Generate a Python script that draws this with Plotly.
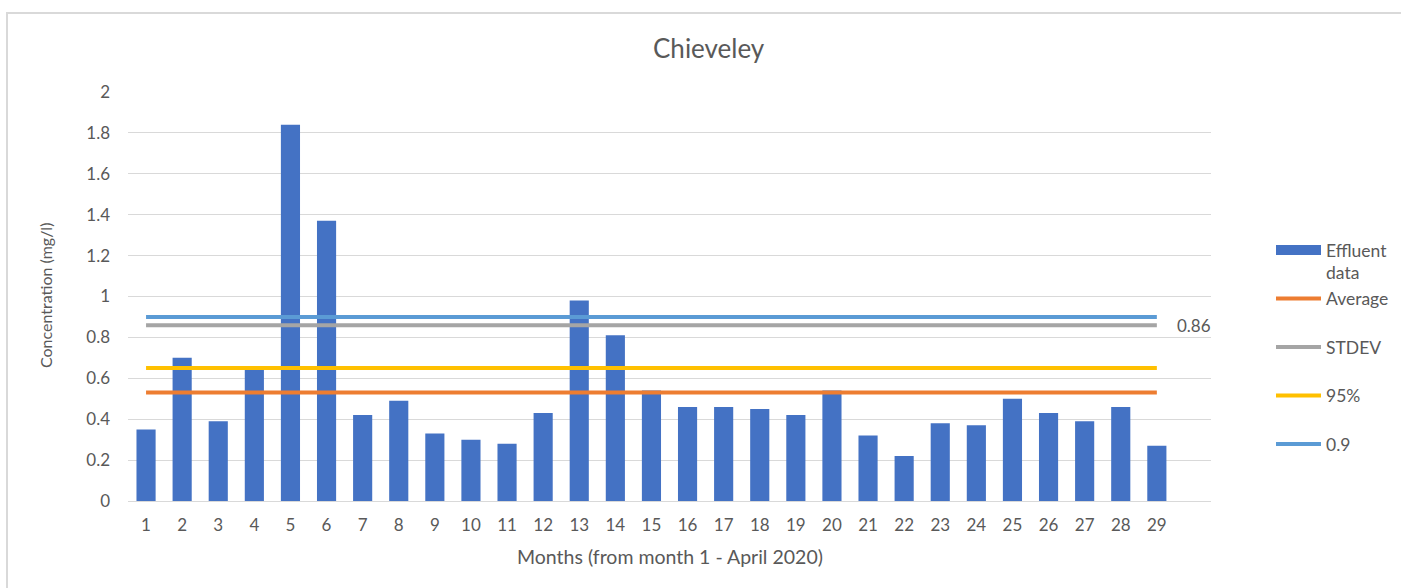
import plotly.graph_objects as go

months = list(range(1, 30))
effluent = [0.35, 0.70, 0.39, 0.64, 1.84, 1.37, 0.42, 0.49, 0.33, 0.30,
            0.28, 0.43, 0.98, 0.81, 0.54, 0.46, 0.46, 0.45, 0.42, 0.54,
            0.32, 0.22, 0.38, 0.37, 0.50, 0.43, 0.39, 0.46, 0.27]
average_value = 0.53
stdev_value = 0.86
p95_value = 0.65
p90_value = 0.9
tick_labels = [str(m) for m in months]

FONT = "Lato"
TXT = "#595959"
BAR_COLOR = "#4472C4"

W, H = 1401, 588
L, R, T, B = 128, 190, 92, 87
pw = W - L - R
ph = H - T - B


def px_x(x):
    return (x - L) / pw


def px_y(y):
    return (H - B - y) / ph


fig = go.Figure()
fig.add_trace(go.Bar(x=months, y=effluent, name="Effluent data",
                     marker=dict(color=BAR_COLOR, line=dict(width=0)),
                     showlegend=False, legendgroup="a"))
# legend entry for the bars (wide swatch, as in the original)
fig.add_trace(go.Scatter(x=[None], y=[None], mode="lines",
                         name="Effluent<br>data",
                         line=dict(color=BAR_COLOR, width=13),
                         legendgroup="a", hoverinfo="skip"))

line_series = [
    ("Average<br> ", average_value, "#ED7D31", "b"),
    ("STDEV<br> ", stdev_value, "#A5A5A5", "c"),
    ("95%<br> ", p95_value, "#FFC000", "d"),
    ("0.9<br> ", p90_value, "#5B9BD5", "e"),
]
for name, val, col, grp in line_series:
    fig.add_trace(go.Scatter(x=months, y=[val] * len(months), name=name,
                             mode="lines", line=dict(color=col, width=4),
                             legendgroup=grp, hoverinfo="skip"))

fig.update_layout(
    width=W, height=H,
    margin=dict(l=L, r=R, t=T, b=B, autoexpand=False),
    paper_bgcolor="white", plot_bgcolor="white",
    font=dict(family=FONT, color=TXT),
    bargap=0.47,
    showlegend=True,
    legend=dict(x=px_x(1271), y=px_y(232), xanchor="left", yanchor="top",
                font=dict(family=FONT, size=17.5, color=TXT),
                tracegroupgap=0, valign="top", itemwidth=45,
                bgcolor="rgba(0,0,0,0)"),
    xaxis=dict(range=[0.5, 30.5], tickmode="array", tickvals=months,
               ticktext=tick_labels, showgrid=False, zeroline=False,
               showline=False, ticks="", tickfont=dict(size=17, color=TXT),
               ticklabelstandoff=12),
    yaxis=dict(range=[0, 2], dtick=0.2, showgrid=True, gridcolor="#D9D9D9",
               gridwidth=1, zeroline=True, zerolinecolor="#D9D9D9",
               zerolinewidth=1, showline=False, ticks="",
               tickfont=dict(size=17, color=TXT), ticklabelstandoff=17),
    annotations=[
        dict(text="Chieveley", x=px_x(709), y=px_y(48), xref="paper",
             yref="paper", showarrow=False, xanchor="center",
             yanchor="middle", font=dict(size=26, color=TXT)),
        dict(text="Months (from month 1 - April 2020)", x=px_x(670),
             y=px_y(556), xref="paper", yref="paper", showarrow=False,
             xanchor="center", yanchor="middle",
             font=dict(size=19.5, color=TXT)),
        dict(text="Concentration (mg/l)", x=px_x(45), y=px_y(296),
             xref="paper", yref="paper", showarrow=False, textangle=-90,
             xanchor="center", yanchor="middle",
             font=dict(size=16, color=TXT)),
        dict(text=f"{stdev_value:.2f}", x=months[-1], y=stdev_value,
             xref="x", yref="y", showarrow=False, xanchor="left",
             yanchor="middle", xshift=18,
             font=dict(size=17, color=TXT)),
    ],
    shapes=[
        dict(type="rect", xref="paper", yref="paper",
             x0=px_x(7), x1=px_x(1402), y0=px_y(13), y1=px_y(600),
             line=dict(color="#D9D9D9", width=2), fillcolor="rgba(0,0,0,0)",
             layer="below"),
    ],
)

fig.write_html("out.html")
